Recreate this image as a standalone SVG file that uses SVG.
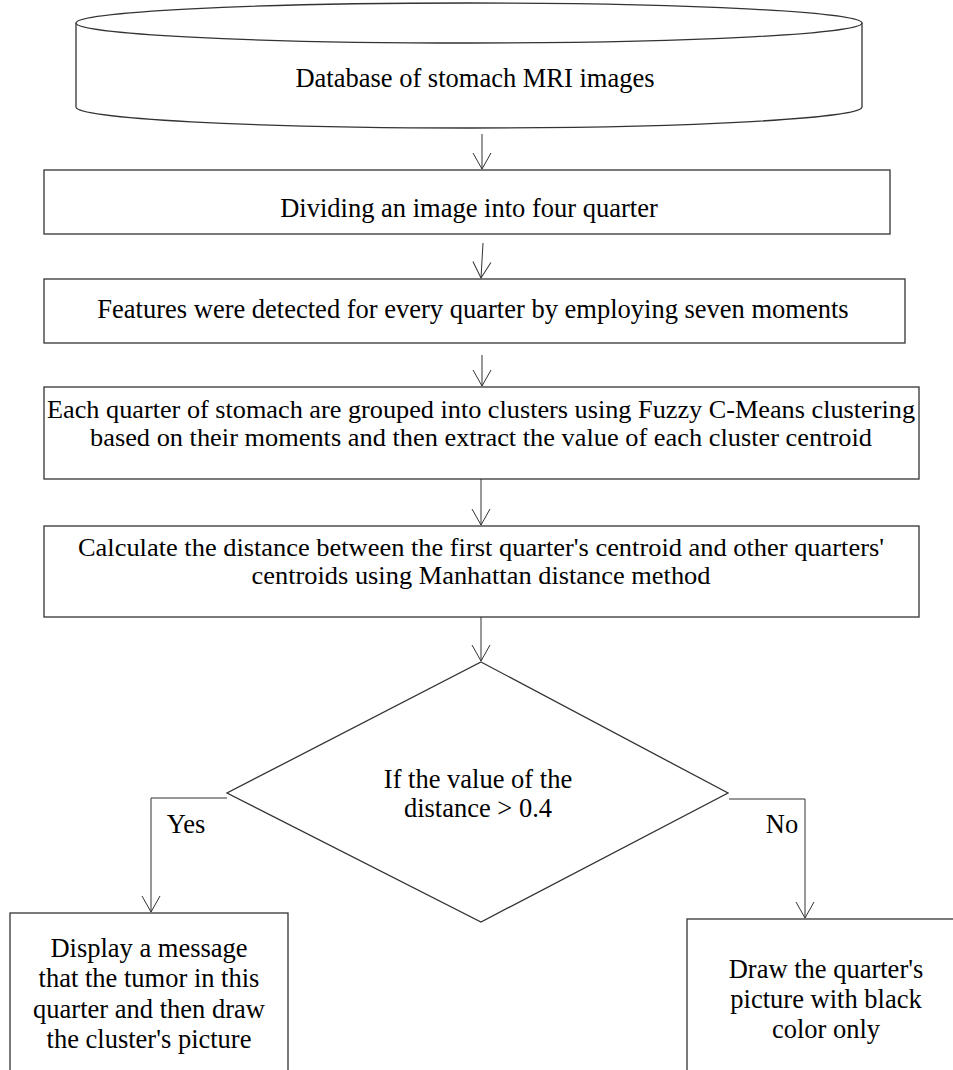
<svg xmlns="http://www.w3.org/2000/svg" width="953" height="1070" viewBox="0 0 953 1070">
<defs>
<style>
.t{font-size:26.5px;fill:#000;text-anchor:middle}
.t2{font-size:25px;fill:#000;text-anchor:middle}
.s{fill:#fff;stroke:#333;stroke-width:1.3}
.c{fill:none;stroke:#333;stroke-width:1}
</style>
<marker id="ah" viewBox="0 0 18 20" refX="17" refY="10" markerWidth="18" markerHeight="20" markerUnits="userSpaceOnUse" orient="auto">
<path d="M1,1 L17,10 L1,19" fill="none" stroke="#333" stroke-width="1"/>
</marker>
</defs>
<rect width="953" height="1070" fill="#fff"/>
<g id="n-db">
<path class="s" d="M76,23 L76,107 A393,21 0 0 0 862,107 L862,23"/>
<ellipse class="s" cx="469" cy="23" rx="393" ry="20"/>
<text class="t" font-family="Liberation Serif" x="475" y="87">Database of stomach MRI images</text>
</g>
<g id="n-divide">
<rect class="s" x="44" y="170" width="846" height="64"/>
<text class="t" font-family="Liberation Serif" x="469" y="217">Dividing an image into four quarter</text>
</g>
<g id="n-features">
<rect class="s" x="44" y="279" width="861" height="64"/>
<text class="t" font-family="Liberation Serif" x="473" y="318">Features were detected for every quarter by employing seven moments</text>
</g>
<g id="n-cluster">
<rect class="s" x="44" y="387" width="875" height="92"/>
<text class="t2" font-family="Liberation Serif" x="481" y="418" textLength="868" lengthAdjust="spacingAndGlyphs">Each quarter of stomach are grouped into clusters using Fuzzy C-Means clustering</text>
<text class="t2" font-family="Liberation Serif" x="481" y="446" textLength="782" lengthAdjust="spacingAndGlyphs">based on their moments and then extract the value of each cluster centroid</text>
</g>
<g id="n-distance">
<rect class="s" x="44" y="526" width="875" height="91"/>
<text class="t2" font-family="Liberation Serif" x="481" y="556" textLength="806" lengthAdjust="spacingAndGlyphs">Calculate the distance between the first quarter's centroid and other quarters'</text>
<text class="t2" font-family="Liberation Serif" x="481" y="584" textLength="459" lengthAdjust="spacingAndGlyphs">centroids using Manhattan distance method</text>
</g>
<g id="n-decision">
<polygon class="s" points="481,662 728,793 481,922 227,793"/>
<text class="t" font-family="Liberation Serif" x="478" y="788">If the value of the</text>
<text class="t" font-family="Liberation Serif" x="478" y="817">distance &gt; 0.4</text>
</g>
<g id="n-yes">
<rect class="s" x="10" y="913" width="278" height="180"/>
<text class="t" font-family="Liberation Serif" x="149" y="957">Display a message</text>
<text class="t" font-family="Liberation Serif" x="149" y="987">that the tumor in this</text>
<text class="t" font-family="Liberation Serif" x="149" y="1018">quarter and then draw</text>
<text class="t" font-family="Liberation Serif" x="149" y="1048">the cluster's picture</text>
</g>
<g id="n-no">
<rect class="s" x="687" y="919" width="290" height="170"/>
<text class="t" font-family="Liberation Serif" x="826" y="978">Draw the quarter's</text>
<text class="t" font-family="Liberation Serif" x="826" y="1008">picture with black</text>
<text class="t" font-family="Liberation Serif" x="826" y="1038">color only</text>
</g>
<g id="connectors">
<line class="c" x1="482" y1="134" x2="482" y2="169" marker-end="url(#ah)"/>
<line class="c" x1="483" y1="243" x2="481" y2="278" marker-end="url(#ah)"/>
<line class="c" x1="482" y1="355" x2="482" y2="386" marker-end="url(#ah)"/>
<line class="c" x1="481" y1="479" x2="481" y2="525" marker-end="url(#ah)"/>
<line class="c" x1="481" y1="617" x2="481" y2="661" marker-end="url(#ah)"/>
<polyline class="c" points="227,798 151,798 151,912" marker-end="url(#ah)"/>
<polyline class="c" points="729,799 805,799 805,918" marker-end="url(#ah)"/>
<text class="t" font-family="Liberation Serif" x="186" y="833">Yes</text>
<text class="t" font-family="Liberation Serif" x="782" y="833">No</text>
</g>
</svg>
